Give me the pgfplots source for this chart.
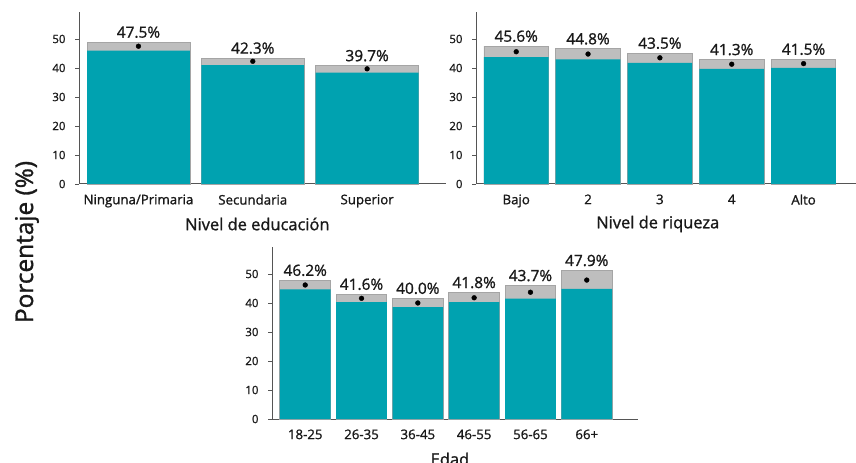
\documentclass[border=0pt]{standalone}
\usepackage{fontspec}
\setmainfont{Open Sans}
\newfontfamily\sbf{Open Sans}[FakeBold=1.2]
\usepackage{pgfplots}
\pgfplotsset{compat=1.18}
\usepackage{pgfplotstable}
\definecolor{tealbar}{RGB}{0,162,176}
\definecolor{cifill}{RGB}{190,190,190}
\definecolor{cidraw}{RGB}{165,165,165}
\definecolor{axc}{RGB}{85,85,85}
\definecolor{txt}{RGB}{25,25,25}

\pgfplotstableread{
x lo v hi
0 46.0 47.5 48.9
1 41.0 42.3 43.4
2 38.4 39.7 40.8
}\edu
\pgfplotstableread{
x lo v hi
0 43.7 45.6 47.5
1 43.0 44.8 46.6
2 41.8 43.5 45.1
3 39.7 41.3 42.9
4 40.0 41.5 43.0
}\riq
\pgfplotstableread{
x lo v hi
0 44.7 46.2 47.8
1 40.3 41.6 43.0
2 38.6 40.0 41.6
3 40.3 41.8 43.6
4 41.5 43.7 46.0
5 44.9 47.9 51.2
}\eda

\pgfplotsset{
  panel/.style={
    scale only axis, height=172bp, ymin=0, ymax=59.3,
    axis x line*=bottom, axis y line*=left,
    axis line style={axc, line width=1bp, -},
    ytick={0,10,20,30,40,50},
    tick align=outside, major tick length=4bp,
    major x tick style={draw=none},
    y tick style={axc, line width=0.8bp},
    yticklabel style={font=\sbf\fontsize{11.5}{13}\selectfont, text=txt, xshift=-6bp},
    xticklabel style={font=\sbf\fontsize{13.3}{15}\selectfont, text=txt, yshift=-3bp},
    xlabel style={font=\sbf\fontsize{16.5}{19}\selectfont, text=txt, anchor=center, yshift=-40bp},
    /pgf/number format/assume math mode=true,
    clip=false,
  },
  cibar/.style={ybar, bar width=0.9, bar shift=0pt, fill=cifill, draw=cidraw, line width=0.8bp},
  tbar/.style={ybar, bar width=0.9, bar shift=0pt, fill=tealbar, draw=none},
  dots/.style={only marks, mark=*, mark size=2.4bp, black},
  vals/.style={draw=none, mark=none, point meta=explicit,
    nodes near coords={\pgfmathprintnumber[fixed,fixed zerofill,precision=1,assume math mode=true]{\pgfplotspointmeta}\%},
    nodes near coords style={font=\sbf\fontsize{15.5}{17}\selectfont, anchor=base, yshift=4.5bp, text=txt, inner sep=0pt}},
}

\begin{document}
\begin{tikzpicture}
\useasboundingbox (0,0) rectangle (856bp,463bp);

\begin{axis}[panel, at={(79bp,279bp)}, anchor=south west, width=367bp,
  xmin=-0.52, xmax=2.69, xtick={0,1,2},
  xticklabels={Ninguna/Primaria,Secundaria,Superior},
  xlabel={Nivel de educación}, xlabel style={at={(axis cs:1.04,0)}}]
\addplot[cibar] table[x=x,y=hi]{\edu};
\addplot[tbar] table[x=x,y=lo]{\edu};
\addplot[dots] table[x=x,y=v]{\edu};
\addplot[vals] table[x=x,y=hi,meta=v]{\edu};
\end{axis}

\begin{axis}[panel, at={(476bp,279bp)}, anchor=south west, width=380bp,
  xmin=-0.56, xmax=4.73, xtick={0,1,2,3,4},
  xticklabels={Bajo,2,3,4,Alto},
  xlabel={Nivel de riqueza}, xlabel style={at={(axis cs:1.97,0)}}]
\addplot[cibar] table[x=x,y=hi]{\riq};
\addplot[tbar] table[x=x,y=lo]{\riq};
\addplot[dots] table[x=x,y=v]{\riq};
\addplot[vals] table[x=x,y=hi,meta=v]{\riq};
\end{axis}

\begin{axis}[panel, at={(272bp,44bp)}, anchor=south west, width=366bp,
  xmin=-0.59, xmax=5.91, xtick={0,1,2,3,4,5},
  xticklabels={18-25,26-35,36-45,46-55,56-65,66+},
  xlabel={Edad}, xlabel style={at={(axis cs:2.57,0)}}]
\addplot[cibar] table[x=x,y=hi]{\eda};
\addplot[tbar] table[x=x,y=lo]{\eda};
\addplot[dots] table[x=x,y=v]{\eda};
\addplot[vals] table[x=x,y=hi,meta=v]{\eda};
\end{axis}

\node[rotate=90, font=\sbf\fontsize{24.5}{28}\selectfont, text=txt] at (27bp,221bp) {Porcentaje (\%)};
\end{tikzpicture}
\end{document}
